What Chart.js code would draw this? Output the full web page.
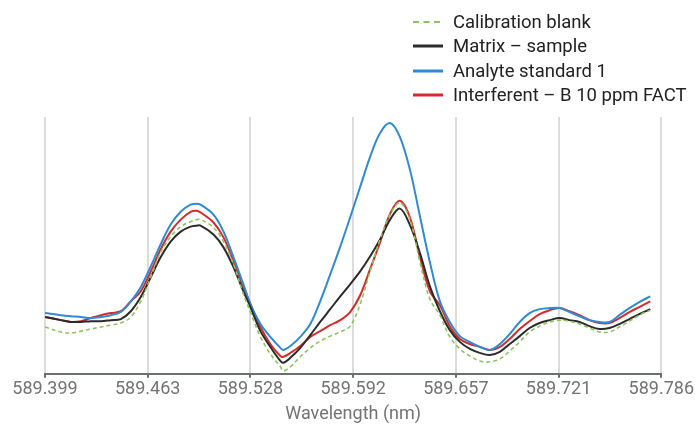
<!DOCTYPE html>
<html>
<head>
<meta charset="utf-8">
<script src="https://cdn.jsdelivr.net/npm/chart.js@4/dist/chart.umd.min.js"></script>
<style>
  html, body { margin: 0; padding: 0; background: #fff; }
  #wrap { position: relative; width: 695px; height: 425px; }
  #legend { position: absolute; left: 413px; top: 10px; font-family: Roboto, "Noto Sans", sans-serif; font-size: 18.5px; color: #222; }
  .row { height: 24.3px; display: flex; align-items: center; white-space: nowrap; }
  .row svg { width: 30px; height: 6px; margin-right: 10px; flex: none; }
</style>
</head>
<body>
<div id="wrap">
  <canvas id="c" width="695" height="425"></canvas>
  <div id="legend"></div>
</div>
<script>
// ---- data ----
const wavelengths = [589.3990, 589.4090, 589.4153, 589.4215, 589.4278, 589.4341, 589.4403, 589.4466, 589.4529, 589.4591,
  589.4654, 589.4716, 589.4779, 589.4842, 589.4904, 589.4942, 589.4967, 589.5048, 589.5111, 589.5174,
  589.5236, 589.5280, 589.5343, 589.5405, 589.5468, 589.5487, 589.5531, 589.5593, 589.5656, 589.5718,
  589.5781, 589.5844, 589.5906, 589.5969, 589.6031, 589.6094, 589.6157, 589.6219, 589.6282, 589.6345,
  589.6407, 589.6470, 589.6532, 589.6595, 589.6658, 589.6720, 589.6783, 589.6846, 589.6908, 589.6971,
  589.7033, 589.7096, 589.7159, 589.7221, 589.7284, 589.7347, 589.7409, 589.7472, 589.7535, 589.7597,
  589.7660, 589.7722, 589.7791];

const calibrationBlank = [198, 179, 175, 182, 190, 198, 205, 213, 236, 296,
  388, 483, 543, 581, 600, 608, 608, 578, 524, 437,
  323, 255, 160, 95, 46, 30, 46, 84, 118, 144,
  163, 179, 201, 285, 410, 532, 627, 673, 608, 445,
  304, 243, 160, 114, 87, 68, 65, 76, 106, 141,
  179, 201, 217, 224, 220, 209, 194, 179, 179, 198,
  220, 243, 262];

const matrixSample = [236, 224, 217, 217, 220, 220, 224, 228, 258, 312,
  388, 464, 524, 562, 581, 585, 585, 551, 502, 426,
  334, 274, 182, 122, 68, 61, 80, 118, 167, 217,
  266, 315, 361, 410, 467, 532, 608, 650, 587, 479,
  353, 258, 186, 141, 114, 99, 91, 103, 133, 163,
  194, 213, 224, 232, 224, 217, 201, 190, 194, 209,
  228, 247, 266];

const analyteStandard1 = [251, 243, 239, 236, 232, 236, 243, 255, 296, 350,
  429, 513, 589, 638, 665, 669, 665, 627, 562, 464,
  361, 285, 209, 160, 118, 110, 125, 160, 209, 296,
  399, 505, 616, 733, 847, 939, 977, 923, 798, 619,
  445, 296, 217, 163, 141, 122, 110, 133, 171, 217,
  251, 266, 270, 270, 255, 239, 224, 217, 217, 243,
  270, 293, 315];

const interferentB = [236, 224, 217, 220, 232, 243, 251, 258, 296, 334,
  410, 494, 562, 608, 638, 642, 635, 597, 540, 448,
  353, 285, 198, 133, 87, 84, 99, 125, 160, 182,
  205, 224, 255, 319, 418, 521, 631, 680, 616, 464,
  334, 281, 201, 152, 133, 122, 110, 122, 152, 190,
  220, 247, 262, 270, 258, 243, 224, 213, 213, 232,
  255, 274, 296];

const tickLabels = ['589.399', '589.463', '589.528', '589.592', '589.657', '589.721', '589.786'];
const seriesNames = ['Calibration blank', 'Matrix \u2013 sample', 'Analyte standard 1', 'Interferent \u2013 B 10 ppm FACT'];

// ---- styles ----
const colors = ['#8cc45c', '#2b2b2b', '#2f8ad6', '#d62b2b'];
const widths = [1.6, 2, 2, 2];
const dashes = [[4, 3], [], [], []];
const legendDashes = [[6, 4.5], [], [], []];
const seriesData = [calibrationBlank, matrixSample, analyteStandard1, interferentB];

const datasets = seriesNames.map((name, i) => ({
  label: name,
  data: wavelengths.map((x, j) => ({ x: x, y: seriesData[i][j] })),
  borderColor: colors[i],
  backgroundColor: colors[i],
  borderWidth: widths[i],
  borderDash: dashes[i],
  pointRadius: 0,
  tension: 0.35,
  fill: false
}));

// HTML legend
const lg = document.getElementById('legend');
seriesNames.forEach((name, i) => {
  const row = document.createElement('div');
  row.className = 'row';
  const dash = legendDashes[i].length ? ' stroke-dasharray="' + legendDashes[i].join(' ') + '"' : '';
  row.innerHTML = '<svg viewBox="0 0 30 6"><line x1="0" y1="3" x2="30" y2="3" stroke="' + colors[i] +
    '" stroke-width="' + (i === 0 ? 2.2 : 3) + '"' + dash + '/></svg><span></span>';
  row.querySelector('span').textContent = name;
  lg.appendChild(row);
});

new Chart(document.getElementById('c'), {
  type: 'line',
  data: { datasets: datasets },
  options: {
    responsive: false,
    animation: false,
    layout: { padding: { top: 117, left: 45, right: 0, bottom: 0 } },
    plugins: { legend: { display: false }, tooltip: { enabled: false } },
    scales: {
      x: {
        type: 'linear',
        min: 589.399,
        max: 589.786,
        ticks: {
          stepSize: 0.0645,
          autoSkip: false,
          maxRotation: 0,
          color: '#737373',
          font: { family: 'Roboto', size: 18 },
          padding: 1,
          callback: (v, i) => tickLabels[i]
        },
        grid: { color: '#dcdcdc', lineWidth: 2, tickColor: '#6b6e72', tickLength: 4, drawOnChartArea: true },
        border: { display: true, color: '#6b6e72', width: 2 },
        title: { display: true, text: 'Wavelength (nm)', color: '#737373', font: { family: 'Roboto', size: 18 }, padding: { top: 2, bottom: 0 } }
      },
      y: {
        display: false,
        min: 19,
        max: 1000
      }
    }
  }
});
</script>
</body>
</html>
